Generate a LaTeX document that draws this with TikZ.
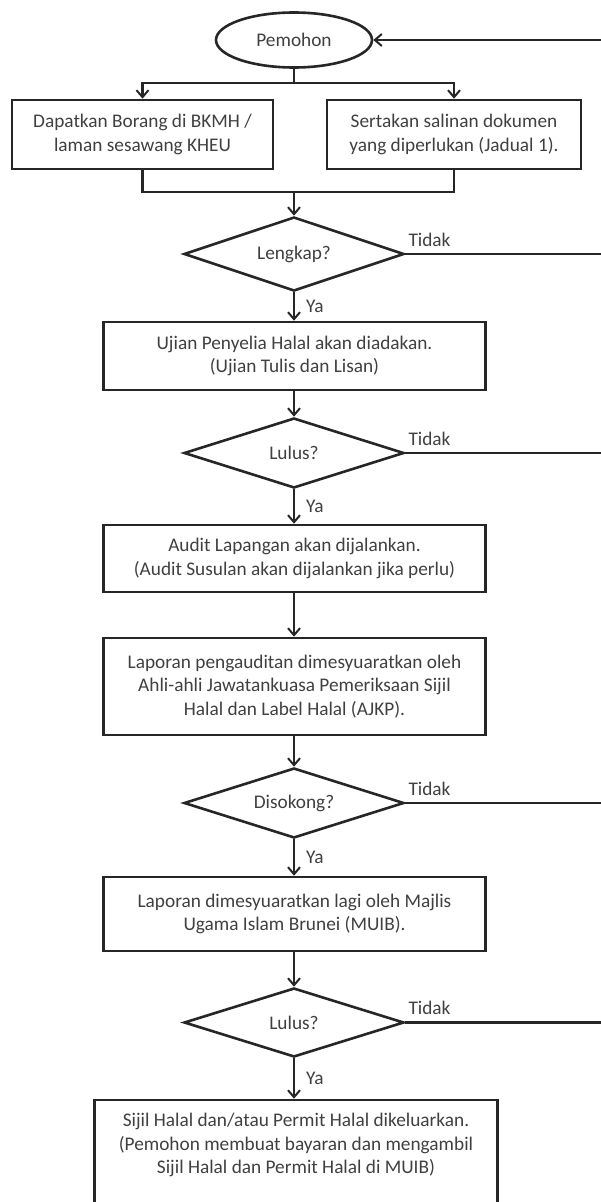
\documentclass[tikz,border=0pt]{standalone}
\usepackage{fontspec}
\setmainfont{Carlito}
\usetikzlibrary{shapes.geometric,arrows.meta}
\begin{document}
\begin{tikzpicture}[x=1pt,y=-1pt,
  every node/.style={font=\fontsize{19.3pt}{23.5pt}\selectfont, text=black!75},
  box/.style={draw=black!85, line width=2.6pt, rectangle, align=center, inner sep=0pt},
  term/.style={draw=black!85, line width=2.6pt, ellipse, inner sep=0pt, minimum width=156pt, minimum height=55pt},
  dec/.style={draw=black!85, line width=2.6pt, diamond, aspect=3, inner sep=0pt, minimum width=220pt, minimum height=72pt},
  line/.style={draw=black!85, line width=2.4pt},
  arr/.style={line, -{Straight Barb[length=7pt,width=12pt,line width=2pt]}},
  ya/.style={anchor=west, inner sep=0pt, xshift=11pt},
  tidak/.style={anchor=base west, inner sep=0pt, xshift=3pt, yshift=8pt},
]
\useasboundingbox (0,0) rectangle (601,1202);
\clip (0,0) rectangle (601,1202);

\node[term] (pem) at (294,40) {Pemohon};
\node[box, minimum width=261pt, minimum height=69pt] (b1) at (142.5,134.5) {Dapatkan Borang di BKMH /\\laman sesawang KHEU};
\node[box, minimum width=254pt, minimum height=69pt] (b2) at (454,134.5) {Sertakan salinan dokumen\\yang diperlukan (Jadual 1).};
\node[dec, minimum height=74pt] (d1) at (294,254) {Lengkap?};
\node[box, minimum width=382pt, minimum height=68pt] (u) at (294.5,356) {Ujian Penyelia Halal akan diadakan.\\(Ujian Tulis dan Lisan)};
\node[dec, minimum height=70pt] (d2) at (294,453) {Lulus?};
\node[box, minimum width=382pt, minimum height=67pt] (a) at (294.5,558.5) {Audit Lapangan akan dijalankan.\\(Audit Susulan akan dijalankan jika perlu)};
\node[box, minimum width=382pt, minimum height=97pt] (l) at (294.5,686.5) {Laporan pengauditan dimesyuaratkan oleh\\Ahli-ahli Jawatankuasa Pemeriksaan Sijil\\Halal dan Label Halal (AJKP).};
\node[dec, minimum height=70pt] (d3) at (294,803) {Disokong?};
\node[box, minimum width=382pt, minimum height=74pt] (m) at (294.5,914) {Laporan dimesyuaratkan lagi oleh Majlis\\Ugama Islam Brunei (MUIB).};
\node[dec, minimum height=69pt] (d4) at (294,1022.5) {Lulus?};
\node[box, minimum width=403pt, minimum height=130pt] (s) at (296,1165) {};
\node[inner sep=0pt, align=center] (st) at (296,1145) {Sijil Halal dan/atau Permit Halal dikeluarkan.\\(Pemohon membuat bayaran dan mengambil\\Sijil Halal dan Permit Halal di MUIB)};

\coordinate (j1) at (294,83);
\coordinate (j2) at (294,192);
\coordinate (r0) at (608,40);

\draw[line] (pem.south) -- (j1);
\draw[arr] (j1) -| (b1.north);
\draw[arr] (j1) -| (b2.north);
\draw[line] (b1.south) |- (j2);
\draw[line] (b2.south) |- (j2);
\draw[arr] (j2) -- (d1.north);
\draw[arr] (d1.south) -- node[ya] (y1) {Ya} (d1.south |- u.north);
\draw[arr] (d2.north |- u.south) -- (d2.north);
\draw[arr] (d2.south) -- node[ya] (y2) {Ya} (d2.south |- a.north);
\draw[arr] (d2.south |- a.south) -- (d2.south |- l.north);
\draw[arr] (d3.north |- l.south) -- (d3.north);
\draw[arr] (d3.south) -- node[ya] (y3) {Ya} (d3.south |- m.north);
\draw[arr] (d4.north |- m.south) -- (d4.north);
\draw[arr] (d4.south) -- node[ya] (y4) {Ya} (d4.south |- s.north);

\draw[arr] (r0) -- (pem.east);
\draw[line] (d1.east) -- (d1.east -| r0);
\draw[line] (d2.east) -- (d2.east -| r0);
\draw[line] (d3.east) -- (d3.east -| r0);
\draw[line] (d4.east) -- (d4.east -| r0);
\node[tidak] (t1) at (d1.east) {Tidak};
\node[tidak] (t2) at (d2.east) {Tidak};
\node[tidak] (t3) at (d3.east) {Tidak};
\node[tidak] (t4) at (d4.east) {Tidak};
\end{tikzpicture}
\end{document}
